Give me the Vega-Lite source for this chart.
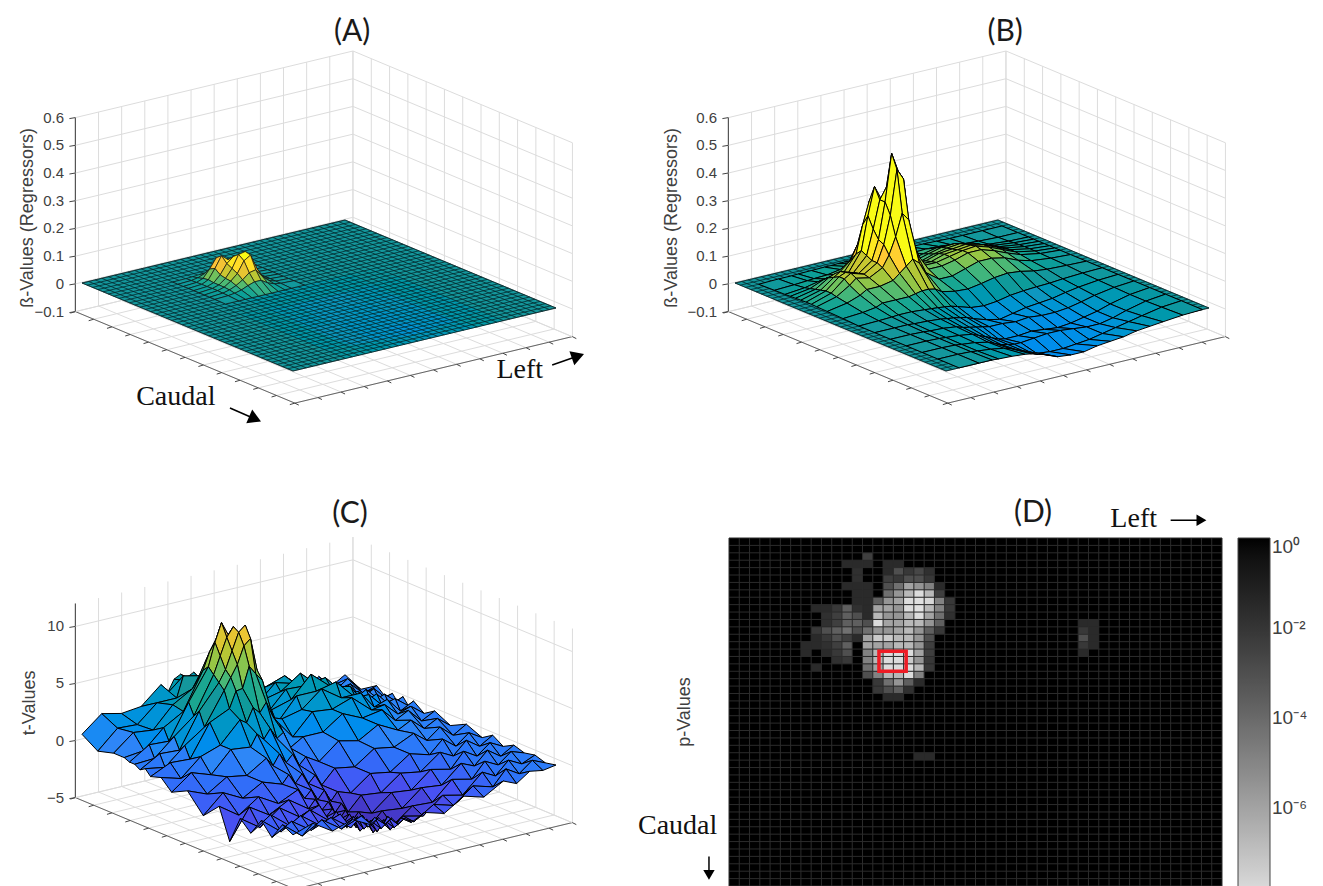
{"$schema":"https://vega.github.io/schema/vega-lite/v6.json","width":1323,"height":886,"padding":0,"autosize":"none","background":"white","config":{"view":{"stroke":null}},
"datasets":{
"grid":[{"k":0},{"k":1},{"k":2},{"k":3},{"k":4},{"k":5},{"k":6},{"k":7},{"k":8},{"k":9},{"k":10},{"k":11},{"k":12},{"k":13},{"k":14},{"k":15},{"k":16},{"k":17},{"k":18},{"k":19},{"k":20},{"k":21},{"k":22},{"k":23},{"k":24},{"k":25},{"k":26},{"k":27},{"k":28},{"k":29},{"k":30},{"k":31},{"k":32},{"k":33},{"k":34},{"k":35},{"k":36},{"k":37},{"k":38},{"k":39},{"k":40},{"k":41},{"k":42},{"k":43},{"k":44},{"k":45},{"k":46},{"k":47},{"k":48}],
"zt":[{"p":"A","z":-0.1},{"p":"A","z":0},{"p":"A","z":0.1},{"p":"A","z":0.2},{"p":"A","z":0.3},{"p":"A","z":0.4},{"p":"A","z":0.5},{"p":"A","z":0.6},{"p":"B","z":-0.1},{"p":"B","z":0},{"p":"B","z":0.1},{"p":"B","z":0.2},{"p":"B","z":0.3},{"p":"B","z":0.4},{"p":"B","z":0.5},{"p":"B","z":0.6},{"p":"C","z":-5},{"p":"C","z":0},{"p":"C","z":5},{"p":"C","z":10}],
"labels":[{"kind":"title","p":"A","text":"(A)","u":0,"v":1.027,"h":1.1},{"kind":"title","p":"B","text":"(B)","u":0,"v":1.027,"h":1.1},{"kind":"title","p":"C","text":"(C)","u":0,"v":1.019,"h":1.123},{"kind":"serif","p":"A","text":"Caudal","u":0.79,"v":-0.277,"h":0},{"kind":"serif","p":"A","text":"Left","u":1.19,"v":0.71,"h":0},{"kind":"axis","p":"A","text":"ß-Values (Regressors)","u":0,"v":-0.205,"h":0.541},{"kind":"axis","p":"B","text":"ß-Values (Regressors)","u":0,"v":-0.24,"h":0.553},{"kind":"axis","p":"C","text":"t-Values","u":0,"v":-0.198,"h":0.544}],
"arrows":[{"u0":1.21,"v0":0.817,"u1":1.19,"v1":0.931},{"u0":0.963,"v0":-0.21,"u1":1.086,"v1":-0.213}],
"troughA":[{"u":16,"v":32,"z":0},{"u":16,"v":28,"z":0},{"u":16,"v":24,"z":0},{"u":16,"v":20,"z":0},{"u":16,"v":16,"z":0},{"u":16,"v":12,"z":0},{"u":16,"v":8,"z":0},{"u":20,"v":32,"z":0},{"u":20,"v":28,"z":-0.006},{"u":20,"v":24,"z":-0.008},{"u":20,"v":20,"z":-0.01},{"u":20,"v":16,"z":-0.008},{"u":20,"v":12,"z":-0.004},{"u":20,"v":8,"z":0},{"u":24,"v":32,"z":0},{"u":24,"v":28,"z":-0.008},{"u":24,"v":24,"z":-0.014},{"u":24,"v":20,"z":-0.016},{"u":24,"v":16,"z":-0.012},{"u":24,"v":12,"z":-0.006},{"u":24,"v":8,"z":0},{"u":28,"v":32,"z":0},{"u":28,"v":28,"z":-0.01},{"u":28,"v":24,"z":-0.014},{"u":28,"v":20,"z":-0.012},{"u":28,"v":16,"z":-0.014},{"u":28,"v":12,"z":-0.008},{"u":28,"v":8,"z":0},{"u":32,"v":32,"z":0},{"u":32,"v":28,"z":-0.012},{"u":32,"v":24,"z":-0.02},{"u":32,"v":20,"z":-0.02},{"u":32,"v":16,"z":-0.016},{"u":32,"v":12,"z":-0.01},{"u":32,"v":8,"z":0},{"u":36,"v":32,"z":0},{"u":36,"v":28,"z":-0.01},{"u":36,"v":24,"z":-0.022},{"u":36,"v":20,"z":-0.022},{"u":36,"v":16,"z":-0.014},{"u":36,"v":12,"z":-0.008},{"u":36,"v":8,"z":0},{"u":40,"v":32,"z":0},{"u":40,"v":28,"z":0},{"u":40,"v":24,"z":0},{"u":40,"v":20,"z":0},{"u":40,"v":16,"z":0},{"u":40,"v":12,"z":0},{"u":40,"v":8,"z":0}],
"surfA":[
{"u":6,"v":21,"z":0},{"u":6,"v":19,"z":0},{"u":6,"v":18,"z":0.001},{"u":6,"v":17,"z":0.002},{"u":6,"v":16,"z":0.004},{"u":6,"v":15,"z":0.006},{"u":6,"v":14,"z":0.006},{"u":6,"v":13,"z":0.004},{"u":6,"v":12,"z":0.002},{"u":6,"v":11,"z":0.001},{"u":6,"v":9,"z":0},
{"u":7,"v":21,"z":0},{"u":7,"v":19,"z":0.001},{"u":7,"v":18,"z":0.002},{"u":7,"v":17,"z":0.005},{"u":7,"v":16,"z":0.012},{"u":7,"v":15,"z":0.02},{"u":7,"v":14,"z":0.025},{"u":7,"v":13,"z":0.015},{"u":7,"v":12,"z":0.006},{"u":7,"v":11,"z":0.002},{"u":7,"v":9,"z":0},
{"u":8,"v":21,"z":0},{"u":8,"v":19,"z":0.001},{"u":8,"v":18,"z":0.003},{"u":8,"v":17,"z":0.008},{"u":8,"v":16,"z":0.02},{"u":8,"v":15,"z":0.05},{"u":8,"v":14,"z":0.075},{"u":8,"v":13,"z":0.04},{"u":8,"v":12,"z":0.012},{"u":8,"v":11,"z":0.003},{"u":8,"v":9,"z":0},
{"u":9,"v":21,"z":0},{"u":9,"v":19,"z":0.002},{"u":9,"v":18,"z":0.004},{"u":9,"v":17,"z":0.012},{"u":9,"v":16,"z":0.035},{"u":9,"v":15,"z":0.07},{"u":9,"v":14,"z":0.09},{"u":9,"v":13,"z":0.05},{"u":9,"v":12,"z":0.015},{"u":9,"v":11,"z":0.004},{"u":9,"v":9,"z":0.001},
{"u":10,"v":21,"z":0},{"u":10,"v":19,"z":0.002},{"u":10,"v":18,"z":0.006},{"u":10,"v":17,"z":0.03},{"u":10,"v":16,"z":0.085},{"u":10,"v":15,"z":0.09},{"u":10,"v":14,"z":0.07},{"u":10,"v":13,"z":0.035},{"u":10,"v":12,"z":0.012},{"u":10,"v":11,"z":0.004},{"u":10,"v":9,"z":0.001},
{"u":11,"v":21,"z":0},{"u":11,"v":19,"z":0.003},{"u":11,"v":18,"z":0.01},{"u":11,"v":17,"z":0.05},{"u":11,"v":16,"z":0.11},{"u":11,"v":15,"z":0.105},{"u":11,"v":14,"z":0.06},{"u":11,"v":13,"z":0.03},{"u":11,"v":12,"z":0.012},{"u":11,"v":11,"z":0.005},{"u":11,"v":9,"z":0.001},
{"u":12,"v":21,"z":0},{"u":12,"v":19,"z":0.003},{"u":12,"v":18,"z":0.012},{"u":12,"v":17,"z":0.05},{"u":12,"v":16,"z":0.105},{"u":12,"v":15,"z":0.09},{"u":12,"v":14,"z":0.05},{"u":12,"v":13,"z":0.028},{"u":12,"v":12,"z":0.012},{"u":12,"v":11,"z":0.005},{"u":12,"v":9,"z":0.001},
{"u":13,"v":21,"z":0},{"u":13,"v":19,"z":0.002},{"u":13,"v":18,"z":0.01},{"u":13,"v":17,"z":0.03},{"u":13,"v":16,"z":0.06},{"u":13,"v":15,"z":0.055},{"u":13,"v":14,"z":0.035},{"u":13,"v":13,"z":0.02},{"u":13,"v":12,"z":0.01},{"u":13,"v":11,"z":0.004},{"u":13,"v":9,"z":0.001},
{"u":14,"v":21,"z":0},{"u":14,"v":19,"z":0.002},{"u":14,"v":18,"z":0.006},{"u":14,"v":17,"z":0.015},{"u":14,"v":16,"z":0.03},{"u":14,"v":15,"z":0.03},{"u":14,"v":14,"z":0.022},{"u":14,"v":13,"z":0.012},{"u":14,"v":12,"z":0.006},{"u":14,"v":11,"z":0.003},{"u":14,"v":9,"z":0.001},
{"u":16,"v":21,"z":0},{"u":16,"v":19,"z":0},{"u":16,"v":18,"z":0},{"u":16,"v":17,"z":0},{"u":16,"v":16,"z":0},{"u":16,"v":15,"z":0},{"u":16,"v":14,"z":0},{"u":16,"v":13,"z":0},{"u":16,"v":12,"z":0},{"u":16,"v":11,"z":0},{"u":16,"v":9,"z":0}],
"surfB":[
{"u":2,"v":39,"z":0},{"u":2,"v":36,"z":0},{"u":2,"v":33,"z":0},{"u":2,"v":31,"z":0},{"u":2,"v":29,"z":0.002},{"u":2,"v":27,"z":0.003},{"u":2,"v":25,"z":0.004},{"u":2,"v":23,"z":0.005},{"u":2,"v":21,"z":0.005},{"u":2,"v":19,"z":0.005},{"u":2,"v":17,"z":0.006},{"u":2,"v":16,"z":0.006},{"u":2,"v":15,"z":0.006},{"u":2,"v":14,"z":0.006},{"u":2,"v":13,"z":0.005},{"u":2,"v":12,"z":0.005},{"u":2,"v":10,"z":0.004},{"u":2,"v":8,"z":0.003},{"u":2,"v":7,"z":0.002},{"u":2,"v":5,"z":0.002},{"u":2,"v":2,"z":0},
{"u":5,"v":39,"z":0},{"u":5,"v":36,"z":0},{"u":5,"v":33,"z":0.003},{"u":5,"v":31,"z":0.006},{"u":5,"v":29,"z":0.012},{"u":5,"v":27,"z":0.018},{"u":5,"v":25,"z":0.02},{"u":5,"v":23,"z":0.018},{"u":5,"v":21,"z":0.015},{"u":5,"v":19,"z":0.015},{"u":5,"v":17,"z":0.02},{"u":5,"v":16,"z":0.025},{"u":5,"v":15,"z":0.03},{"u":5,"v":14,"z":0.03},{"u":5,"v":13,"z":0.025},{"u":5,"v":12,"z":0.02},{"u":5,"v":10,"z":0.012},{"u":5,"v":8,"z":0.01},{"u":5,"v":7,"z":0.008},{"u":5,"v":5,"z":0.005},{"u":5,"v":2,"z":0.002},
{"u":7,"v":39,"z":0},{"u":7,"v":36,"z":0.002},{"u":7,"v":33,"z":0.008},{"u":7,"v":31,"z":0.015},{"u":7,"v":29,"z":0.03},{"u":7,"v":27,"z":0.04},{"u":7,"v":25,"z":0.04},{"u":7,"v":23,"z":0.03},{"u":7,"v":21,"z":0.02},{"u":7,"v":19,"z":0.025},{"u":7,"v":17,"z":0.05},{"u":7,"v":16,"z":0.08},{"u":7,"v":15,"z":0.14},{"u":7,"v":14,"z":0.16},{"u":7,"v":13,"z":0.12},{"u":7,"v":12,"z":0.07},{"u":7,"v":10,"z":0.03},{"u":7,"v":8,"z":0.025},{"u":7,"v":7,"z":0.02},{"u":7,"v":5,"z":0.01},{"u":7,"v":2,"z":0.003},
{"u":8,"v":39,"z":0},{"u":8,"v":36,"z":0.004},{"u":8,"v":33,"z":0.012},{"u":8,"v":31,"z":0.022},{"u":8,"v":29,"z":0.04},{"u":8,"v":27,"z":0.052},{"u":8,"v":25,"z":0.05},{"u":8,"v":23,"z":0.038},{"u":8,"v":21,"z":0.025},{"u":8,"v":19,"z":0.03},{"u":8,"v":17,"z":0.07},{"u":8,"v":16,"z":0.14},{"u":8,"v":15,"z":0.24},{"u":8,"v":14,"z":0.28},{"u":8,"v":13,"z":0.2},{"u":8,"v":12,"z":0.1},{"u":8,"v":10,"z":0.04},{"u":8,"v":8,"z":0.04},{"u":8,"v":7,"z":0.035},{"u":8,"v":5,"z":0.015},{"u":8,"v":2,"z":0.004},
{"u":9,"v":39,"z":0},{"u":9,"v":36,"z":0.005},{"u":9,"v":33,"z":0.015},{"u":9,"v":31,"z":0.03},{"u":9,"v":29,"z":0.05},{"u":9,"v":27,"z":0.06},{"u":9,"v":25,"z":0.055},{"u":9,"v":23,"z":0.045},{"u":9,"v":21,"z":0.03},{"u":9,"v":19,"z":0.035},{"u":9,"v":17,"z":0.08},{"u":9,"v":16,"z":0.17},{"u":9,"v":15,"z":0.29},{"u":9,"v":14,"z":0.34},{"u":9,"v":13,"z":0.24},{"u":9,"v":12,"z":0.12},{"u":9,"v":10,"z":0.05},{"u":9,"v":8,"z":0.06},{"u":9,"v":7,"z":0.05},{"u":9,"v":5,"z":0.02},{"u":9,"v":2,"z":0.005},
{"u":10,"v":39,"z":0},{"u":10,"v":36,"z":0.006},{"u":10,"v":33,"z":0.018},{"u":10,"v":31,"z":0.035},{"u":10,"v":29,"z":0.055},{"u":10,"v":27,"z":0.065},{"u":10,"v":25,"z":0.06},{"u":10,"v":23,"z":0.055},{"u":10,"v":21,"z":0.04},{"u":10,"v":19,"z":0.04},{"u":10,"v":17,"z":0.1},{"u":10,"v":16,"z":0.26},{"u":10,"v":15,"z":0.34},{"u":10,"v":14,"z":0.3},{"u":10,"v":13,"z":0.2},{"u":10,"v":12,"z":0.11},{"u":10,"v":10,"z":0.06},{"u":10,"v":8,"z":0.075},{"u":10,"v":7,"z":0.06},{"u":10,"v":5,"z":0.025},{"u":10,"v":2,"z":0.006},
{"u":11,"v":39,"z":0},{"u":11,"v":36,"z":0.006},{"u":11,"v":33,"z":0.02},{"u":11,"v":31,"z":0.04},{"u":11,"v":29,"z":0.06},{"u":11,"v":27,"z":0.07},{"u":11,"v":25,"z":0.065},{"u":11,"v":23,"z":0.06},{"u":11,"v":21,"z":0.045},{"u":11,"v":19,"z":0.045},{"u":11,"v":17,"z":0.16},{"u":11,"v":16,"z":0.4},{"u":11,"v":15,"z":0.47},{"u":11,"v":14,"z":0.3},{"u":11,"v":13,"z":0.17},{"u":11,"v":12,"z":0.1},{"u":11,"v":10,"z":0.065},{"u":11,"v":8,"z":0.08},{"u":11,"v":7,"z":0.07},{"u":11,"v":5,"z":0.03},{"u":11,"v":2,"z":0.007},
{"u":12,"v":39,"z":0},{"u":12,"v":36,"z":0.006},{"u":12,"v":33,"z":0.02},{"u":12,"v":31,"z":0.04},{"u":12,"v":29,"z":0.06},{"u":12,"v":27,"z":0.075},{"u":12,"v":25,"z":0.07},{"u":12,"v":23,"z":0.06},{"u":12,"v":21,"z":0.05},{"u":12,"v":19,"z":0.05},{"u":12,"v":17,"z":0.17},{"u":12,"v":16,"z":0.38},{"u":12,"v":15,"z":0.42},{"u":12,"v":14,"z":0.26},{"u":12,"v":13,"z":0.16},{"u":12,"v":12,"z":0.1},{"u":12,"v":10,"z":0.07},{"u":12,"v":8,"z":0.085},{"u":12,"v":7,"z":0.07},{"u":12,"v":5,"z":0.03},{"u":12,"v":2,"z":0.007},
{"u":13,"v":39,"z":0},{"u":13,"v":36,"z":0.005},{"u":13,"v":33,"z":0.018},{"u":13,"v":31,"z":0.035},{"u":13,"v":29,"z":0.055},{"u":13,"v":27,"z":0.07},{"u":13,"v":25,"z":0.07},{"u":13,"v":23,"z":0.055},{"u":13,"v":21,"z":0.045},{"u":13,"v":19,"z":0.045},{"u":13,"v":17,"z":0.12},{"u":13,"v":16,"z":0.24},{"u":13,"v":15,"z":0.27},{"u":13,"v":14,"z":0.19},{"u":13,"v":13,"z":0.13},{"u":13,"v":12,"z":0.09},{"u":13,"v":10,"z":0.065},{"u":13,"v":8,"z":0.075},{"u":13,"v":7,"z":0.055},{"u":13,"v":5,"z":0.025},{"u":13,"v":2,"z":0.006},
{"u":15,"v":39,"z":0},{"u":15,"v":36,"z":0.004},{"u":15,"v":33,"z":0.012},{"u":15,"v":31,"z":0.025},{"u":15,"v":29,"z":0.045},{"u":15,"v":27,"z":0.055},{"u":15,"v":25,"z":0.055},{"u":15,"v":23,"z":0.04},{"u":15,"v":21,"z":0.025},{"u":15,"v":19,"z":0.025},{"u":15,"v":17,"z":0.06},{"u":15,"v":16,"z":0.1},{"u":15,"v":15,"z":0.12},{"u":15,"v":14,"z":0.1},{"u":15,"v":13,"z":0.08},{"u":15,"v":12,"z":0.06},{"u":15,"v":10,"z":0.05},{"u":15,"v":8,"z":0.05},{"u":15,"v":7,"z":0.035},{"u":15,"v":5,"z":0.018},{"u":15,"v":2,"z":0.005},
{"u":18,"v":39,"z":0},{"u":18,"v":36,"z":0.002},{"u":18,"v":33,"z":0.005},{"u":18,"v":31,"z":0.01},{"u":18,"v":29,"z":0.02},{"u":18,"v":27,"z":0.025},{"u":18,"v":25,"z":0.02},{"u":18,"v":23,"z":0.01},{"u":18,"v":21,"z":0.002},{"u":18,"v":19,"z":0.005},{"u":18,"v":17,"z":0.015},{"u":18,"v":16,"z":0.03},{"u":18,"v":15,"z":0.035},{"u":18,"v":14,"z":0.035},{"u":18,"v":13,"z":0.03},{"u":18,"v":12,"z":0.025},{"u":18,"v":10,"z":0.025},{"u":18,"v":8,"z":0.025},{"u":18,"v":7,"z":0.015},{"u":18,"v":5,"z":0.008},{"u":18,"v":2,"z":0.003},
{"u":21,"v":39,"z":0},{"u":21,"v":36,"z":-0.002},{"u":21,"v":33,"z":-0.006},{"u":21,"v":31,"z":-0.01},{"u":21,"v":29,"z":-0.012},{"u":21,"v":27,"z":-0.015},{"u":21,"v":25,"z":-0.02},{"u":21,"v":23,"z":-0.03},{"u":21,"v":21,"z":-0.035},{"u":21,"v":19,"z":-0.03},{"u":21,"v":17,"z":-0.015},{"u":21,"v":16,"z":-0.008},{"u":21,"v":15,"z":-0.005},{"u":21,"v":14,"z":-0.002},{"u":21,"v":13,"z":0},{"u":21,"v":12,"z":0.002},{"u":21,"v":10,"z":0.006},{"u":21,"v":8,"z":0.006},{"u":21,"v":7,"z":0.004},{"u":21,"v":5,"z":0.002},{"u":21,"v":2,"z":0},
{"u":24,"v":39,"z":0},{"u":24,"v":36,"z":-0.004},{"u":24,"v":33,"z":-0.012},{"u":24,"v":31,"z":-0.02},{"u":24,"v":29,"z":-0.03},{"u":24,"v":27,"z":-0.035},{"u":24,"v":25,"z":-0.04},{"u":24,"v":23,"z":-0.05},{"u":24,"v":21,"z":-0.06},{"u":24,"v":19,"z":-0.05},{"u":24,"v":17,"z":-0.035},{"u":24,"v":16,"z":-0.025},{"u":24,"v":15,"z":-0.02},{"u":24,"v":14,"z":-0.015},{"u":24,"v":13,"z":-0.012},{"u":24,"v":12,"z":-0.008},{"u":24,"v":10,"z":-0.004},{"u":24,"v":8,"z":-0.002},{"u":24,"v":7,"z":0},{"u":24,"v":5,"z":0},{"u":24,"v":2,"z":0},
{"u":27,"v":39,"z":0},{"u":27,"v":36,"z":-0.006},{"u":27,"v":33,"z":-0.018},{"u":27,"v":31,"z":-0.03},{"u":27,"v":29,"z":-0.04},{"u":27,"v":27,"z":-0.045},{"u":27,"v":25,"z":-0.045},{"u":27,"v":23,"z":-0.04},{"u":27,"v":21,"z":-0.045},{"u":27,"v":19,"z":-0.04},{"u":27,"v":17,"z":-0.04},{"u":27,"v":16,"z":-0.035},{"u":27,"v":15,"z":-0.03},{"u":27,"v":14,"z":-0.025},{"u":27,"v":13,"z":-0.02},{"u":27,"v":12,"z":-0.012},{"u":27,"v":10,"z":-0.006},{"u":27,"v":8,"z":-0.004},{"u":27,"v":7,"z":-0.002},{"u":27,"v":5,"z":0},{"u":27,"v":2,"z":0},
{"u":30,"v":39,"z":0},{"u":30,"v":36,"z":-0.008},{"u":30,"v":33,"z":-0.025},{"u":30,"v":31,"z":-0.04},{"u":30,"v":29,"z":-0.05},{"u":30,"v":27,"z":-0.06},{"u":30,"v":25,"z":-0.065},{"u":30,"v":23,"z":-0.06},{"u":30,"v":21,"z":-0.055},{"u":30,"v":19,"z":-0.06},{"u":30,"v":17,"z":-0.06},{"u":30,"v":16,"z":-0.055},{"u":30,"v":15,"z":-0.045},{"u":30,"v":14,"z":-0.035},{"u":30,"v":13,"z":-0.025},{"u":30,"v":12,"z":-0.015},{"u":30,"v":10,"z":-0.008},{"u":30,"v":8,"z":-0.004},{"u":30,"v":7,"z":-0.002},{"u":30,"v":5,"z":0},{"u":30,"v":2,"z":0},
{"u":33,"v":39,"z":0},{"u":33,"v":36,"z":-0.008},{"u":33,"v":33,"z":-0.025},{"u":33,"v":31,"z":-0.04},{"u":33,"v":29,"z":-0.05},{"u":33,"v":27,"z":-0.05},{"u":33,"v":25,"z":-0.045},{"u":33,"v":23,"z":-0.04},{"u":33,"v":21,"z":-0.04},{"u":33,"v":19,"z":-0.045},{"u":33,"v":17,"z":-0.05},{"u":33,"v":16,"z":-0.05},{"u":33,"v":15,"z":-0.045},{"u":33,"v":14,"z":-0.04},{"u":33,"v":13,"z":-0.03},{"u":33,"v":12,"z":-0.02},{"u":33,"v":10,"z":-0.01},{"u":33,"v":8,"z":-0.005},{"u":33,"v":7,"z":-0.002},{"u":33,"v":5,"z":0},{"u":33,"v":2,"z":0},
{"u":36,"v":39,"z":0},{"u":36,"v":36,"z":-0.006},{"u":36,"v":33,"z":-0.02},{"u":36,"v":31,"z":-0.03},{"u":36,"v":29,"z":-0.04},{"u":36,"v":27,"z":-0.05},{"u":36,"v":25,"z":-0.06},{"u":36,"v":23,"z":-0.065},{"u":36,"v":21,"z":-0.07},{"u":36,"v":19,"z":-0.07},{"u":36,"v":17,"z":-0.065},{"u":36,"v":16,"z":-0.055},{"u":36,"v":15,"z":-0.045},{"u":36,"v":14,"z":-0.035},{"u":36,"v":13,"z":-0.025},{"u":36,"v":12,"z":-0.018},{"u":36,"v":10,"z":-0.01},{"u":36,"v":8,"z":-0.005},{"u":36,"v":7,"z":-0.002},{"u":36,"v":5,"z":0},{"u":36,"v":2,"z":0},
{"u":40,"v":39,"z":0},{"u":40,"v":36,"z":-0.003},{"u":40,"v":33,"z":-0.01},{"u":40,"v":31,"z":-0.015},{"u":40,"v":29,"z":-0.02},{"u":40,"v":27,"z":-0.03},{"u":40,"v":25,"z":-0.035},{"u":40,"v":23,"z":-0.04},{"u":40,"v":21,"z":-0.05},{"u":40,"v":19,"z":-0.05},{"u":40,"v":17,"z":-0.045},{"u":40,"v":16,"z":-0.035},{"u":40,"v":15,"z":-0.025},{"u":40,"v":14,"z":-0.02},{"u":40,"v":13,"z":-0.012},{"u":40,"v":12,"z":-0.008},{"u":40,"v":10,"z":-0.004},{"u":40,"v":8,"z":-0.002},{"u":40,"v":7,"z":0},{"u":40,"v":5,"z":0},{"u":40,"v":2,"z":0}],
"surfC":[
{"u":0,"v":40,"z":0.2},{"u":0,"v":38,"z":-0.5},{"u":0,"v":36,"z":0.6},{"u":0,"v":34,"z":-0.4},{"u":0,"v":32,"z":0.8},{"u":0,"v":29,"z":0.1},{"u":0,"v":26,"z":1.1},{"u":0,"v":23,"z":0.9},{"u":0,"v":20,"z":2.6},{"u":0,"v":18,"z":2.7},{"u":0,"v":17,"z":3.6},{"u":0,"v":16,"z":3.3},{"u":0,"v":15,"z":3.7},{"u":0,"v":14,"z":3.4},{"u":0,"v":13,"z":2.3},{"u":0,"v":12,"z":3.2},{"u":0,"v":9,"z":1.7},{"u":0,"v":6,"z":1.5},{"u":0,"v":3,"z":1.9},{"u":0,"v":0,"z":0.5},
{"u":3,"v":40,"z":-0.5},{"u":3,"v":38,"z":0.7},{"u":3,"v":36,"z":-0.1},{"u":3,"v":34,"z":1},{"u":3,"v":32,"z":0.7},{"u":3,"v":29,"z":1.4},{"u":3,"v":26,"z":1.2},{"u":3,"v":23,"z":2.6},{"u":3,"v":20,"z":2.2},{"u":3,"v":18,"z":4},{"u":3,"v":17,"z":2.8},{"u":3,"v":16,"z":3.8},{"u":3,"v":15,"z":3.4},{"u":3,"v":14,"z":3.8},{"u":3,"v":13,"z":4.4},{"u":3,"v":12,"z":2.6},{"u":3,"v":9,"z":2.6},{"u":3,"v":6,"z":1.1},{"u":3,"v":3,"z":1.2},{"u":3,"v":0,"z":-0.4},
{"u":6,"v":40,"z":0.4},{"u":6,"v":38,"z":0},{"u":6,"v":36,"z":1.1},{"u":6,"v":34,"z":0.3},{"u":6,"v":32,"z":1.6},{"u":6,"v":29,"z":1.6},{"u":6,"v":26,"z":3.2},{"u":6,"v":23,"z":2.6},{"u":6,"v":20,"z":2.8},{"u":6,"v":18,"z":3},{"u":6,"v":17,"z":4.9},{"u":6,"v":16,"z":5.1},{"u":6,"v":15,"z":6.4},{"u":6,"v":14,"z":5},{"u":6,"v":13,"z":5},{"u":6,"v":12,"z":4},{"u":6,"v":9,"z":3},{"u":6,"v":6,"z":1.2},{"u":6,"v":3,"z":1.4},{"u":6,"v":0,"z":0},
{"u":8,"v":40,"z":-0.4},{"u":8,"v":38,"z":0.8},{"u":8,"v":36,"z":0.2},{"u":8,"v":34,"z":1.4},{"u":8,"v":32,"z":1.2},{"u":8,"v":29,"z":3},{"u":8,"v":26,"z":2.9},{"u":8,"v":23,"z":3.4},{"u":8,"v":20,"z":1.8},{"u":8,"v":18,"z":3.4},{"u":8,"v":17,"z":4.6},{"u":8,"v":16,"z":6.9},{"u":8,"v":15,"z":7.1},{"u":8,"v":14,"z":8.5},{"u":8,"v":13,"z":7.5},{"u":8,"v":12,"z":6},{"u":8,"v":9,"z":2.8},{"u":8,"v":6,"z":1.8},{"u":8,"v":3,"z":0.2},{"u":8,"v":0,"z":0},
{"u":9,"v":40,"z":0.3},{"u":9,"v":38,"z":0},{"u":9,"v":36,"z":1.2},{"u":9,"v":34,"z":0.5},{"u":9,"v":32,"z":2.2},{"u":9,"v":29,"z":2.4},{"u":9,"v":26,"z":4},{"u":9,"v":23,"z":2.8},{"u":9,"v":20,"z":2.4},{"u":9,"v":18,"z":2.4},{"u":9,"v":17,"z":5.9},{"u":9,"v":16,"z":6.6},{"u":9,"v":15,"z":8.9},{"u":9,"v":14,"z":10.1},{"u":9,"v":13,"z":8.5},{"u":9,"v":12,"z":6.5},{"u":9,"v":9,"z":3.8},{"u":9,"v":6,"z":0.8},{"u":9,"v":3,"z":0.9},{"u":9,"v":0,"z":-0.2},
{"u":10,"v":40,"z":-0.3},{"u":10,"v":38,"z":0.7},{"u":10,"v":36,"z":0.3},{"u":10,"v":34,"z":1.5},{"u":10,"v":32,"z":1.5},{"u":10,"v":29,"z":3.4},{"u":10,"v":26,"z":3.1},{"u":10,"v":23,"z":3.2},{"u":10,"v":20,"z":1.4},{"u":10,"v":18,"z":3.4},{"u":10,"v":17,"z":5.6},{"u":10,"v":16,"z":8.5},{"u":10,"v":15,"z":9.8},{"u":10,"v":14,"z":9},{"u":10,"v":13,"z":7.5},{"u":10,"v":12,"z":6},{"u":10,"v":9,"z":2.8},{"u":10,"v":6,"z":1.4},{"u":10,"v":3,"z":-0.1},{"u":10,"v":0,"z":-0.2},
{"u":11,"v":40,"z":0.4},{"u":11,"v":38,"z":-0.1},{"u":11,"v":36,"z":1.2},{"u":11,"v":34,"z":0.7},{"u":11,"v":32,"z":2.4},{"u":11,"v":29,"z":2.8},{"u":11,"v":26,"z":4.3},{"u":11,"v":23,"z":2.5},{"u":11,"v":20,"z":2},{"u":11,"v":18,"z":2.8},{"u":11,"v":17,"z":7},{"u":11,"v":16,"z":10},{"u":11,"v":15,"z":9.5},{"u":11,"v":14,"z":8},{"u":11,"v":13,"z":6.5},{"u":11,"v":12,"z":5.5},{"u":11,"v":9,"z":3.4},{"u":11,"v":6,"z":0.4},{"u":11,"v":3,"z":0.5},{"u":11,"v":0,"z":-0.5},
{"u":12,"v":40,"z":-0.2},{"u":12,"v":38,"z":0.7},{"u":12,"v":36,"z":0.4},{"u":12,"v":34,"z":1.6},{"u":12,"v":32,"z":1.6},{"u":12,"v":29,"z":3.4},{"u":12,"v":26,"z":3},{"u":12,"v":23,"z":3},{"u":12,"v":20,"z":1},{"u":12,"v":18,"z":3.4},{"u":12,"v":17,"z":6.1},{"u":12,"v":16,"z":9},{"u":12,"v":15,"z":8.5},{"u":12,"v":14,"z":7},{"u":12,"v":13,"z":6},{"u":12,"v":12,"z":5},{"u":12,"v":9,"z":2.2},{"u":12,"v":6,"z":1},{"u":12,"v":3,"z":-0.5},{"u":12,"v":0,"z":-0.2},
{"u":13,"v":40,"z":0.4},{"u":13,"v":38,"z":-0.2},{"u":13,"v":36,"z":1.1},{"u":13,"v":34,"z":0.7},{"u":13,"v":32,"z":2.2},{"u":13,"v":29,"z":2.2},{"u":13,"v":26,"z":3.4},{"u":13,"v":23,"z":2},{"u":13,"v":20,"z":1.6},{"u":13,"v":18,"z":2},{"u":13,"v":17,"z":5.4},{"u":13,"v":16,"z":6.1},{"u":13,"v":15,"z":6.9},{"u":13,"v":14,"z":5.1},{"u":13,"v":13,"z":5},{"u":13,"v":12,"z":3.6},{"u":13,"v":9,"z":2.8},{"u":13,"v":6,"z":0},{"u":13,"v":3,"z":0.1},{"u":13,"v":0,"z":-0.7},
{"u":15,"v":40,"z":-0.3},{"u":15,"v":38,"z":0.6},{"u":15,"v":36,"z":0.2},{"u":15,"v":34,"z":1.3},{"u":15,"v":32,"z":1.1},{"u":15,"v":29,"z":2.6},{"u":15,"v":26,"z":2},{"u":15,"v":23,"z":2.2},{"u":15,"v":20,"z":0.4},{"u":15,"v":18,"z":1.8},{"u":15,"v":17,"z":2.6},{"u":15,"v":16,"z":4},{"u":15,"v":15,"z":3.2},{"u":15,"v":14,"z":3.8},{"u":15,"v":13,"z":2.6},{"u":15,"v":12,"z":3},{"u":15,"v":9,"z":1.2},{"u":15,"v":6,"z":0.6},{"u":15,"v":3,"z":-0.9},{"u":15,"v":0,"z":-0.4},
{"u":17,"v":40,"z":0.3},{"u":17,"v":38,"z":-0.3},{"u":17,"v":36,"z":0.9},{"u":17,"v":34,"z":0.3},{"u":17,"v":32,"z":1.5},{"u":17,"v":29,"z":1.2},{"u":17,"v":26,"z":2},{"u":17,"v":23,"z":0.8},{"u":17,"v":20,"z":0.8},{"u":17,"v":18,"z":0.1},{"u":17,"v":17,"z":1.6},{"u":17,"v":16,"z":1.2},{"u":17,"v":15,"z":2.2},{"u":17,"v":14,"z":1.4},{"u":17,"v":13,"z":2},{"u":17,"v":12,"z":1},{"u":17,"v":9,"z":1.2},{"u":17,"v":6,"z":-0.6},{"u":17,"v":3,"z":0},{"u":17,"v":0,"z":-1.3},
{"u":20,"v":40,"z":-0.4},{"u":20,"v":38,"z":0.5},{"u":20,"v":36,"z":-0.1},{"u":20,"v":34,"z":0.9},{"u":20,"v":32,"z":0.3},{"u":20,"v":29,"z":1.2},{"u":20,"v":26,"z":0.2},{"u":20,"v":23,"z":0.6},{"u":20,"v":20,"z":-0.8},{"u":20,"v":18,"z":-0.1},{"u":20,"v":17,"z":-0.7},{"u":20,"v":16,"z":0.4},{"u":20,"v":15,"z":-0.2},{"u":20,"v":14,"z":0.7},{"u":20,"v":13,"z":-0.2},{"u":20,"v":12,"z":0.6},{"u":20,"v":9,"z":-0.5},{"u":20,"v":6,"z":-0.2},{"u":20,"v":3,"z":-1.3},{"u":20,"v":0,"z":-0.6},
{"u":23,"v":40,"z":0.3},{"u":23,"v":38,"z":-0.4},{"u":23,"v":36,"z":0.6},{"u":23,"v":34,"z":-0.3},{"u":23,"v":32,"z":0.6},{"u":23,"v":29,"z":-0.2},{"u":23,"v":26,"z":0.1},{"u":23,"v":23,"z":-1.1},{"u":23,"v":20,"z":-0.8},{"u":23,"v":18,"z":-2},{"u":23,"v":17,"z":-1},{"u":23,"v":16,"z":-1.6},{"u":23,"v":15,"z":-0.6},{"u":23,"v":14,"z":-1.3},{"u":23,"v":13,"z":-0.4},{"u":23,"v":12,"z":-1.1},{"u":23,"v":9,"z":-0.5},{"u":23,"v":6,"z":-1.5},{"u":23,"v":3,"z":-0.6},{"u":23,"v":0,"z":-2.2},
{"u":26,"v":40,"z":-0.3},{"u":26,"v":38,"z":0.4},{"u":26,"v":36,"z":-0.5},{"u":26,"v":34,"z":0.4},{"u":26,"v":32,"z":-0.7},{"u":26,"v":29,"z":-0.2},{"u":26,"v":26,"z":-1.4},{"u":26,"v":23,"z":-1.1},{"u":26,"v":20,"z":-2.4},{"u":26,"v":18,"z":-2},{"u":26,"v":17,"z":-2.7},{"u":26,"v":16,"z":-1.6},{"u":26,"v":15,"z":-2.3},{"u":26,"v":14,"z":-1.3},{"u":26,"v":13,"z":-1.9},{"u":26,"v":12,"z":-1},{"u":26,"v":9,"z":-1.8},{"u":26,"v":6,"z":-0.8},{"u":26,"v":3,"z":-2},{"u":26,"v":0,"z":-0.8},
{"u":28,"v":40,"z":0.3},{"u":28,"v":38,"z":-0.4},{"u":28,"v":36,"z":0.4},{"u":28,"v":34,"z":-0.7},{"u":28,"v":32,"z":-0.1},{"u":28,"v":29,"z":-1.4},{"u":28,"v":26,"z":-1.1},{"u":28,"v":23,"z":-2.4},{"u":28,"v":20,"z":-2.2},{"u":28,"v":18,"z":-3.4},{"u":28,"v":17,"z":-2.5},{"u":28,"v":16,"z":-3.2},{"u":28,"v":15,"z":-2.1},{"u":28,"v":14,"z":-2.7},{"u":28,"v":13,"z":-1.6},{"u":28,"v":12,"z":-2.3},{"u":28,"v":9,"z":-1.1},{"u":28,"v":6,"z":-2},{"u":28,"v":3,"z":-0.9},{"u":28,"v":0,"z":-3.5},
{"u":30,"v":40,"z":-0.3},{"u":30,"v":38,"z":0.3},{"u":30,"v":36,"z":-0.6},{"u":30,"v":34,"z":0.1},{"u":30,"v":32,"z":-1.2},{"u":30,"v":29,"z":-0.8},{"u":30,"v":26,"z":-2.2},{"u":30,"v":23,"z":-2},{"u":30,"v":20,"z":-3.4},{"u":30,"v":18,"z":-3},{"u":30,"v":17,"z":-3.7},{"u":30,"v":16,"z":-2.6},{"u":30,"v":15,"z":-3.3},{"u":30,"v":14,"z":-2.2},{"u":30,"v":13,"z":-2.8},{"u":30,"v":12,"z":-1.6},{"u":30,"v":9,"z":-2.2},{"u":30,"v":6,"z":-1},{"u":30,"v":3,"z":-2.3},{"u":30,"v":0,"z":-1.1},
{"u":32,"v":40,"z":0.2},{"u":32,"v":38,"z":-0.5},{"u":32,"v":36,"z":0.3},{"u":32,"v":34,"z":-0.8},{"u":32,"v":32,"z":-0.3},{"u":32,"v":29,"z":-1.8},{"u":32,"v":26,"z":-1.6},{"u":32,"v":23,"z":-3},{"u":32,"v":20,"z":-2.8},{"u":32,"v":18,"z":-3.9},{"u":32,"v":17,"z":-2.8},{"u":32,"v":16,"z":-3.7},{"u":32,"v":15,"z":-2.4},{"u":32,"v":14,"z":-3.1},{"u":32,"v":13,"z":-1.9},{"u":32,"v":12,"z":-2.6},{"u":32,"v":9,"z":-1.2},{"u":32,"v":6,"z":-2.2},{"u":32,"v":3,"z":-0.8},{"u":32,"v":0,"z":-2},
{"u":34,"v":40,"z":-0.1},{"u":34,"v":38,"z":0.3},{"u":34,"v":36,"z":-0.6},{"u":34,"v":34,"z":0},{"u":34,"v":32,"z":-1.3},{"u":34,"v":29,"z":-0.9},{"u":34,"v":26,"z":-2.5},{"u":34,"v":23,"z":-2.4},{"u":34,"v":20,"z":-3.7},{"u":34,"v":18,"z":-3},{"u":34,"v":17,"z":-3.9},{"u":34,"v":16,"z":-2.6},{"u":34,"v":15,"z":-3.5},{"u":34,"v":14,"z":-2.1},{"u":34,"v":13,"z":-2.9},{"u":34,"v":12,"z":-1.6},{"u":34,"v":9,"z":-2.2},{"u":34,"v":6,"z":-0.9},{"u":34,"v":3,"z":-1.9},{"u":34,"v":0,"z":-0.5},
{"u":36,"v":40,"z":0.1},{"u":36,"v":38,"z":-0.4},{"u":36,"v":36,"z":0.2},{"u":36,"v":34,"z":-0.9},{"u":36,"v":32,"z":-0.3},{"u":36,"v":29,"z":-1.9},{"u":36,"v":26,"z":-1.5},{"u":36,"v":23,"z":-2.9},{"u":36,"v":20,"z":-2.5},{"u":36,"v":18,"z":-3.4},{"u":36,"v":17,"z":-2.4},{"u":36,"v":16,"z":-3.3},{"u":36,"v":15,"z":-2.2},{"u":36,"v":14,"z":-2.8},{"u":36,"v":13,"z":-1.6},{"u":36,"v":12,"z":-2.4},{"u":36,"v":9,"z":-1.1},{"u":36,"v":6,"z":-1.8},{"u":36,"v":3,"z":-0.6},{"u":36,"v":0,"z":-1.6},
{"u":38,"v":40,"z":-0.2},{"u":38,"v":38,"z":0.3},{"u":38,"v":36,"z":-0.6},{"u":38,"v":34,"z":0.1},{"u":38,"v":32,"z":-1.2},{"u":38,"v":29,"z":-0.7},{"u":38,"v":26,"z":-2},{"u":38,"v":23,"z":-1.5},{"u":38,"v":20,"z":-2.6},{"u":38,"v":18,"z":-2},{"u":38,"v":17,"z":-2.7},{"u":38,"v":16,"z":-1.6},{"u":38,"v":15,"z":-2.5},{"u":38,"v":14,"z":-1.4},{"u":38,"v":13,"z":-2.1},{"u":38,"v":12,"z":-1},{"u":38,"v":9,"z":-1.7},{"u":38,"v":6,"z":-0.5},{"u":38,"v":3,"z":-1.5},{"u":38,"v":0,"z":-0.1},
{"u":40,"v":40,"z":0},{"u":40,"v":38,"z":-0.2},{"u":40,"v":36,"z":0},{"u":40,"v":34,"z":-0.8},{"u":40,"v":32,"z":-0.3},{"u":40,"v":29,"z":-1.3},{"u":40,"v":26,"z":-0.8},{"u":40,"v":23,"z":-1.9},{"u":40,"v":20,"z":-1.4},{"u":40,"v":18,"z":-2},{"u":40,"v":17,"z":-1.5},{"u":40,"v":16,"z":-1.9},{"u":40,"v":15,"z":-1.2},{"u":40,"v":14,"z":-1.6},{"u":40,"v":13,"z":-0.9},{"u":40,"v":12,"z":-1.4},{"u":40,"v":9,"z":-0.5},{"u":40,"v":6,"z":-1.1},{"u":40,"v":3,"z":0},{"u":40,"v":0,"z":-0.6}],
"cells":[{"c":13,"r":2,"p":4e-3},{"c":11,"r":3,"p":0.03},{"c":12,"r":3,"p":0.03},{"c":13,"r":3,"p":0.03},{"c":15,"r":3,"p":0.03},{"c":16,"r":3,"p":0.03},{"c":12,"r":4,"p":0.016},{"c":15,"r":4,"p":0.03},{"c":16,"r":4,"p":1e-3},{"c":17,"r":4,"p":8e-3},{"c":18,"r":4,"p":2e-3},{"c":19,"r":4,"p":0.016},{"c":12,"r":5,"p":0.016},{"c":15,"r":5,"p":4e-3},{"c":16,"r":5,"p":8e-3},{"c":17,"r":5,"p":1e-3},{"c":18,"r":5,"p":1e-3},{"c":19,"r":5,"p":8e-3},{"c":11,"r":6,"p":0.03},{"c":12,"r":6,"p":0.03},{"c":13,"r":6,"p":0.03},{"c":15,"r":6,"p":1e-3},{"c":16,"r":6,"p":6e-5},{"c":17,"r":6,"p":1e-6},{"c":18,"r":6,"p":3e-6},{"c":19,"r":6,"p":1.3e-5},{"c":20,"r":6,"p":0.03},{"c":12,"r":7,"p":0.03},{"c":13,"r":7,"p":0.03},{"c":15,"r":7,"p":6e-5},{"c":16,"r":7,"p":3e-6},{"c":17,"r":7,"p":2e-7},{"c":18,"r":7,"p":1.3e-8},{"c":19,"r":7,"p":2e-7},{"c":20,"r":7,"p":4e-3},{"c":12,"r":8,"p":0.03},{"c":13,"r":8,"p":0.03},{"c":14,"r":8,"p":2.5e-4},{"c":15,"r":8,"p":3e-6},{"c":16,"r":8,"p":1e-6},{"c":17,"r":8,"p":1.3e-8},{"c":18,"r":8,"p":1e-8},{"c":19,"r":8,"p":2e-8},{"c":20,"r":8,"p":1.3e-5},{"c":21,"r":8,"p":8e-3},{"c":8,"r":9,"p":0.03},{"c":9,"r":9,"p":0.03},{"c":10,"r":9,"p":8e-3},{"c":11,"r":9,"p":2.5e-4},{"c":12,"r":9,"p":0.016},{"c":13,"r":9,"p":0.03},{"c":14,"r":9,"p":1e-6},{"c":15,"r":9,"p":1e-6},{"c":16,"r":9,"p":3e-6},{"c":17,"r":9,"p":1.3e-8},{"c":18,"r":9,"p":1e-8},{"c":19,"r":9,"p":2e-7},{"c":20,"r":9,"p":1.3e-5},{"c":21,"r":9,"p":8e-3},{"c":9,"r":10,"p":0.016},{"c":10,"r":10,"p":4e-3},{"c":11,"r":10,"p":2.5e-4},{"c":12,"r":10,"p":1e-3},{"c":13,"r":10,"p":0.03},{"c":14,"r":10,"p":2e-7},{"c":15,"r":10,"p":3e-6},{"c":16,"r":10,"p":3e-6},{"c":17,"r":10,"p":2e-7},{"c":18,"r":10,"p":1.3e-8},{"c":19,"r":10,"p":1e-6},{"c":20,"r":10,"p":6e-5},{"c":21,"r":10,"p":0.016},{"c":9,"r":11,"p":0.016},{"c":10,"r":11,"p":4e-3},{"c":11,"r":11,"p":2.5e-4},{"c":12,"r":11,"p":2.5e-4},{"c":13,"r":11,"p":1e-3},{"c":14,"r":11,"p":1.3e-8},{"c":15,"r":11,"p":1e-6},{"c":16,"r":11,"p":1e-6},{"c":17,"r":11,"p":2e-7},{"c":18,"r":11,"p":2e-7},{"c":19,"r":11,"p":3e-6},{"c":20,"r":11,"p":2.5e-4},{"c":8,"r":12,"p":8e-3},{"c":9,"r":12,"p":1e-3},{"c":10,"r":12,"p":2.5e-4},{"c":11,"r":12,"p":6e-5},{"c":12,"r":12,"p":1e-3},{"c":13,"r":12,"p":6e-5},{"c":14,"r":12,"p":3e-6},{"c":15,"r":12,"p":3e-6},{"c":16,"r":12,"p":1e-6},{"c":17,"r":12,"p":2e-7},{"c":18,"r":12,"p":3e-6},{"c":19,"r":12,"p":2.5e-4},{"c":20,"r":12,"p":8e-3},{"c":8,"r":13,"p":0.03},{"c":9,"r":13,"p":8e-3},{"c":10,"r":13,"p":1e-3},{"c":11,"r":13,"p":4e-3},{"c":12,"r":13,"p":0.03},{"c":13,"r":13,"p":1e-6},{"c":14,"r":13,"p":5e-8},{"c":15,"r":13,"p":5e-8},{"c":16,"r":13,"p":2e-7},{"c":17,"r":13,"p":2e-7},{"c":18,"r":13,"p":3e-6},{"c":19,"r":13,"p":1e-3},{"c":7,"r":14,"p":0.03},{"c":8,"r":14,"p":0.03},{"c":9,"r":14,"p":0.016},{"c":10,"r":14,"p":4e-3},{"c":11,"r":14,"p":2.5e-4},{"c":13,"r":14,"p":1e-6},{"c":14,"r":14,"p":1e-6},{"c":15,"r":14,"p":1e-6},{"c":16,"r":14,"p":2e-7},{"c":17,"r":14,"p":2e-7},{"c":18,"r":14,"p":3e-6},{"c":19,"r":14,"p":4e-3},{"c":7,"r":15,"p":0.03},{"c":9,"r":15,"p":0.03},{"c":10,"r":15,"p":8e-3},{"c":11,"r":15,"p":1e-3},{"c":13,"r":15,"p":1.3e-5},{"c":14,"r":15,"p":2e-7},{"c":15,"r":15,"p":1.3e-8},{"c":16,"r":15,"p":1.3e-8},{"c":17,"r":15,"p":1.3e-8},{"c":18,"r":15,"p":1e-6},{"c":19,"r":15,"p":4e-3},{"c":10,"r":16,"p":0.016},{"c":11,"r":16,"p":8e-3},{"c":13,"r":16,"p":1.3e-5},{"c":14,"r":16,"p":2e-7},{"c":15,"r":16,"p":1.3e-8},{"c":16,"r":16,"p":1.3e-8},{"c":17,"r":16,"p":5e-8},{"c":18,"r":16,"p":3e-6},{"c":19,"r":16,"p":8e-3},{"c":8,"r":17,"p":0.03},{"c":13,"r":17,"p":6e-5},{"c":14,"r":17,"p":1e-6},{"c":15,"r":17,"p":1.3e-8},{"c":16,"r":17,"p":1.3e-8},{"c":17,"r":17,"p":1.3e-8},{"c":18,"r":17,"p":2e-7},{"c":19,"r":17,"p":8e-3},{"c":13,"r":18,"p":1e-3},{"c":14,"r":18,"p":1.3e-5},{"c":15,"r":18,"p":2e-7},{"c":16,"r":18,"p":2e-7},{"c":17,"r":18,"p":1.3e-8},{"c":18,"r":18,"p":1.3e-5},{"c":14,"r":19,"p":8e-3},{"c":15,"r":19,"p":6e-5},{"c":16,"r":19,"p":3e-6},{"c":17,"r":19,"p":2.5e-4},{"c":18,"r":19,"p":0.03},{"c":14,"r":20,"p":8e-3},{"c":15,"r":20,"p":1e-3},{"c":16,"r":20,"p":2.5e-4},{"c":17,"r":20,"p":0.016},{"c":15,"r":21,"p":0.03},{"c":16,"r":21,"p":0.03},{"c":18,"r":29,"p":0.03},{"c":19,"r":29,"p":0.03},{"c":34,"r":11,"p":0.03},{"c":35,"r":11,"p":0.03},{"c":34,"r":12,"p":8e-3},{"c":35,"r":12,"p":0.03},{"c":34,"r":13,"p":1e-3},{"c":35,"r":13,"p":0.03},{"c":34,"r":14,"p":8e-3},{"c":35,"r":14,"p":0.03},{"c":34,"r":15,"p":0.03}]
},
"layer":[
{"encoding":{"x":{"field":"sx","type":"quantitative","axis":null,"scale":{"domain":[0,1323],"range":[0,1323],"nice":false,"zero":false}},"y":{"field":"sy","type":"quantitative","axis":null,"scale":{"domain":[0,886],"range":[0,886],"nice":false,"zero":false}}},
"layer":[
{"data":{"name":"grid"},"transform":[{"filter":"datum.k<=12"},{"calculate":"['A','B','C']","as":"pn"},{"flatten":["pn"]},{"calculate":"datum.pn=='B'?735:82","as":"X"},{"calculate":"datum.pn=='C'?796:310","as":"Y"},{"calculate":"1.04*datum.k/12","as":"U"},{"calculate":"-0.025+1.055*datum.k/12","as":"V"}],
"layer":[
{"transform":[{"calculate":"datum.X+263*datum.V","as":"sx"},{"calculate":"datum.Y-63*datum.V","as":"sy"},{"calculate":"datum.sy-194","as":"ey"}],"mark":{"type":"rule","stroke":"#dcdcdc","strokeWidth":1},"encoding":{"y2":{"field":"ey"}}},
{"transform":[{"calculate":"datum.X+271+211*datum.U","as":"sx"},{"calculate":"datum.Y-65+88*datum.U","as":"sy"},{"calculate":"datum.sy-194","as":"ey"}],"mark":{"type":"rule","stroke":"#dcdcdc","strokeWidth":1},"encoding":{"y2":{"field":"ey"}}},
{"transform":[{"calculate":"datum.X+263*datum.V","as":"sx"},{"calculate":"datum.Y-63*datum.V","as":"sy"},{"calculate":"datum.sx+219.4","as":"ex"},{"calculate":"datum.sy+91.5","as":"ey"}],"mark":{"type":"rule","stroke":"#dcdcdc","strokeWidth":1},"encoding":{"x2":{"field":"ex"},"y2":{"field":"ey"}}},
{"transform":[{"calculate":"datum.X-6.6+211*datum.U","as":"sx"},{"calculate":"datum.Y+1.6+88*datum.U","as":"sy"},{"calculate":"datum.sx+277.5","as":"ex"},{"calculate":"datum.sy-66.5","as":"ey"}],"mark":{"type":"rule","stroke":"#dcdcdc","strokeWidth":1},"encoding":{"x2":{"field":"ex"},"y2":{"field":"ey"}}},
{"transform":[{"filter":"datum.k==0"},{"calculate":"datum.X-6.6","as":"sx"},{"calculate":"datum.Y+1.6","as":"sy"},{"calculate":"datum.sy-194","as":"ey"}],"mark":{"type":"rule","stroke":"#555","strokeWidth":1.2},"encoding":{"y2":{"field":"ey"}}},
{"transform":[{"filter":"datum.k==0"},{"calculate":"datum.X-6.6","as":"sx"},{"calculate":"datum.Y+1.6","as":"sy"},{"calculate":"datum.sx+219.4","as":"ex"},{"calculate":"datum.sy+91.5","as":"ey"}],"mark":{"type":"rule","stroke":"#666","strokeWidth":1},"encoding":{"x2":{"field":"ex"},"y2":{"field":"ey"}}},
{"transform":[{"filter":"datum.k==0"},{"calculate":"datum.X+212.8","as":"sx"},{"calculate":"datum.Y+93.1","as":"sy"},{"calculate":"datum.sx+277.5","as":"ex"},{"calculate":"datum.sy-66.5","as":"ey"}],"mark":{"type":"rule","stroke":"#666","strokeWidth":1},"encoding":{"x2":{"field":"ex"},"y2":{"field":"ey"}}},
{"transform":[{"calculate":"datum.X-6.6+211*datum.U","as":"sx"},{"calculate":"datum.Y+1.6+88*datum.U","as":"sy"},{"calculate":"datum.sx-5","as":"ex"},{"calculate":"datum.sy+1.5","as":"ey"}],"mark":{"type":"rule","stroke":"#444","strokeWidth":1},"encoding":{"x2":{"field":"ex"},"y2":{"field":"ey"}}},
{"transform":[{"calculate":"datum.X+212.8+277.5*datum.k/12","as":"sx"},{"calculate":"datum.Y+93.1-66.5*datum.k/12","as":"sy"},{"calculate":"datum.sx+4","as":"ex"},{"calculate":"datum.sy+2","as":"ey"}],"mark":{"type":"rule","stroke":"#444","strokeWidth":1},"encoding":{"x2":{"field":"ex"},"y2":{"field":"ey"}}}
]},
{"data":{"name":"zt"},"transform":[{"calculate":"datum.p=='B'?735:82","as":"X"},{"calculate":"datum.p=='C'?796:310","as":"Y"},{"calculate":"datum.p=='C'?(datum.z+5)/17*194:(datum.z+0.1)/0.7*194","as":"h"}],
"layer":[
{"transform":[{"calculate":"datum.X-6.6","as":"sx"},{"calculate":"datum.Y+1.6-datum.h","as":"sy"},{"calculate":"datum.X+271","as":"ex"},{"calculate":"datum.Y-65-datum.h","as":"ey"}],"mark":{"type":"rule","stroke":"#dcdcdc","strokeWidth":1},"encoding":{"x2":{"field":"ex"},"y2":{"field":"ey"}}},
{"transform":[{"calculate":"datum.X+271","as":"sx"},{"calculate":"datum.Y-65-datum.h","as":"sy"},{"calculate":"datum.X+490","as":"ex"},{"calculate":"datum.Y+26.6-datum.h","as":"ey"}],"mark":{"type":"rule","stroke":"#dcdcdc","strokeWidth":1},"encoding":{"x2":{"field":"ex"},"y2":{"field":"ey"}}},
{"transform":[{"calculate":"datum.X-6.6","as":"sx"},{"calculate":"datum.Y+1.6-datum.h","as":"sy"},{"calculate":"datum.sx-6","as":"ex"},{"calculate":"datum.sy+1","as":"ey"}],"mark":{"type":"rule","stroke":"#444","strokeWidth":1},"encoding":{"x2":{"field":"ex"},"y2":{"field":"ey"}}},
{"transform":[{"calculate":"datum.X-18","as":"sx"},{"calculate":"datum.Y+1.6-datum.h","as":"sy"}],"mark":{"type":"text","align":"right","baseline":"middle","font":"Liberation Sans","fontSize":15,"fill":"#404040"},"encoding":{"text":{"field":"z","type":"quantitative"}}}
]},
{"data":{"values":[{"u":0,"v":0,"o":0},{"u":1,"v":0,"o":1},{"u":1,"v":1,"o":2},{"u":0,"v":1,"o":3}]},"transform":[{"calculate":"['A','B']","as":"pn"},{"flatten":["pn"]},{"calculate":"(datum.pn=='B'?735:82)+211*datum.u+263*datum.v","as":"sx"},{"calculate":"283+88*datum.u-63*datum.v","as":"sy"}],"mark":{"type":"line","interpolate":"linear-closed","stroke":"#111","strokeWidth":0.5},"encoding":{"detail":{"field":"pn","type":"nominal"},"order":{"field":"o","type":"quantitative"},"fill":{"value":"#14979c"}}},
{"data":{"name":"troughA"},"transform":[{"window":[{"op":"lead","field":"z","as":"zu"},{"op":"lead","field":"u","as":"u1"}],"groupby":["v"],"sort":[{"field":"u"}]},{"window":[{"op":"lead","field":"z","as":"zv"},{"op":"lead","field":"zu","as":"zuv"},{"op":"lead","field":"v","as":"v1"}],"groupby":["u"],"sort":[{"field":"v"}]},{"filter":"datum.u1!=null&&datum.v1!=null"},{"calculate":"((datum.z+datum.zu+datum.zv+datum.zuv)/4+0.09)/0.18","as":"t"},{"calculate":"datum.u*100+datum.v","as":"q"},{"fold":["z","zu","zuv","zv"],"as":["key","val"]},{"calculate":"indexof(datum.key,'u')>=0?datum.u1:datum.u","as":"cu"},{"calculate":"indexof(datum.key,'v')>=0?datum.v1:datum.v","as":"cv"},{"calculate":"82+211*datum.cu/40+263*datum.cv/40","as":"sx"},{"calculate":"283+88*datum.cu/40-63*datum.cv/40-277*datum.val","as":"sy"}],"mark":{"type":"line","interpolate":"linear-closed","strokeWidth":0},"encoding":{"detail":{"field":"q","type":"nominal"},"order":{"field":"key","type":"ordinal"},"fill":{"field":"t","type":"quantitative","legend":null,"scale":{"domain":[0,0.143,0.286,0.429,0.5,0.571,0.714,0.857,1],"range":["#3E26A8","#4852F4","#2E87F7","#1097c0","#14979c","#2fae88","#ABC739","#FEC338","#F9FB15"],"clamp":true}}}},
{"data":{"name":"grid"},"transform":[{"filter":"datum.k<=40"},{"calculate":"['A','B']","as":"pn"},{"flatten":["pn"]},{"calculate":"datum.pn=='B'?735:82","as":"X"}],
"layer":[
{"transform":[{"calculate":"datum.X+211*datum.k/40","as":"sx"},{"calculate":"283+88*datum.k/40","as":"sy"},{"calculate":"datum.sx+263","as":"ex"},{"calculate":"datum.sy-63","as":"ey"}],"mark":{"type":"rule","stroke":"#04282c","strokeWidth":0.8},"encoding":{"x2":{"field":"ex"},"y2":{"field":"ey"}}},
{"transform":[{"calculate":"datum.X+263*datum.k/40","as":"sx"},{"calculate":"283-63*datum.k/40","as":"sy"},{"calculate":"datum.sx+211","as":"ex"},{"calculate":"datum.sy+88","as":"ey"}],"mark":{"type":"rule","stroke":"#04282c","strokeWidth":0.8},"encoding":{"x2":{"field":"ex"},"y2":{"field":"ey"}}}
]},
{"data":{"name":"surfA"},"transform":[{"window":[{"op":"lead","field":"z","as":"zu"},{"op":"lead","field":"u","as":"u1"}],"groupby":["v"],"sort":[{"field":"u"}]},{"window":[{"op":"lead","field":"z","as":"zv"},{"op":"lead","field":"zu","as":"zuv"},{"op":"lead","field":"v","as":"v1"}],"groupby":["u"],"sort":[{"field":"v"}]},{"filter":"datum.u1!=null&&datum.v1!=null"},{"calculate":"((datum.z+datum.zu+datum.zv+datum.zuv)/4+0.09)/0.18","as":"t"},{"calculate":"datum.u*100+datum.v","as":"q"},{"fold":["z","zu","zuv","zv"],"as":["key","val"]},{"calculate":"indexof(datum.key,'u')>=0?datum.u1:datum.u","as":"cu"},{"calculate":"indexof(datum.key,'v')>=0?datum.v1:datum.v","as":"cv"},{"calculate":"82+211*datum.cu/40+263*datum.cv/40","as":"sx"},{"calculate":"283+88*datum.cu/40-63*datum.cv/40-277*datum.val","as":"sy"}],"mark":{"type":"line","interpolate":"linear-closed","stroke":"#111","strokeWidth":0.7},"encoding":{"detail":{"field":"q","type":"nominal"},"order":{"field":"key","type":"ordinal"},"fill":{"field":"t","type":"quantitative","legend":null}}},
{"data":{"name":"surfB"},"transform":[{"window":[{"op":"lead","field":"z","as":"zu"},{"op":"lead","field":"u","as":"u1"}],"groupby":["v"],"sort":[{"field":"u"}]},{"window":[{"op":"lead","field":"z","as":"zv"},{"op":"lead","field":"zu","as":"zuv"},{"op":"lead","field":"v","as":"v1"}],"groupby":["u"],"sort":[{"field":"v"}]},{"filter":"datum.u1!=null&&datum.v1!=null"},{"calculate":"((datum.z+datum.zu+datum.zv+datum.zuv)/4+0.16)/0.32","as":"t"},{"calculate":"datum.u*100+datum.v","as":"q"},{"fold":["z","zu","zuv","zv"],"as":["key","val"]},{"calculate":"indexof(datum.key,'u')>=0?datum.u1:datum.u","as":"cu"},{"calculate":"indexof(datum.key,'v')>=0?datum.v1:datum.v","as":"cv"},{"calculate":"735+211*datum.cu/40+263*datum.cv/40","as":"sx"},{"calculate":"283+88*datum.cu/40-63*datum.cv/40-277*datum.val","as":"sy"}],"mark":{"type":"line","interpolate":"linear-closed","stroke":"#000","strokeWidth":1},"encoding":{"detail":{"field":"q","type":"nominal"},"order":{"field":"key","type":"ordinal"},"fill":{"field":"t","type":"quantitative","legend":null}}},
{"data":{"name":"surfC"},"transform":[{"window":[{"op":"lead","field":"z","as":"zu"},{"op":"lead","field":"u","as":"u1"}],"groupby":["v"],"sort":[{"field":"u"}]},{"window":[{"op":"lead","field":"z","as":"zv"},{"op":"lead","field":"zu","as":"zuv"},{"op":"lead","field":"v","as":"v1"}],"groupby":["u"],"sort":[{"field":"v"}]},{"filter":"datum.u1!=null&&datum.v1!=null"},{"calculate":"((datum.z+datum.zu+datum.zv+datum.zuv)/4+4)/16","as":"t"},{"calculate":"datum.u*100+datum.v","as":"q"},{"fold":["z","zu","zuv","zv"],"as":["key","val"]},{"calculate":"indexof(datum.key,'u')>=0?datum.u1:datum.u","as":"cu"},{"calculate":"indexof(datum.key,'v')>=0?datum.v1:datum.v","as":"cv"},{"calculate":"82+211*datum.cu/40+263*datum.cv/40","as":"sx"},{"calculate":"740+88*datum.cu/40-63*datum.cv/40-11.4*datum.val","as":"sy"}],"mark":{"type":"line","interpolate":"linear-closed","stroke":"#000","strokeWidth":1},"encoding":{"detail":{"field":"q","type":"nominal"},"order":{"field":"key","type":"ordinal"},"fill":{"field":"t","type":"quantitative","legend":null}}},
{"data":{"name":"labels"},"transform":[{"calculate":"(datum.p=='B'?735:82)+211*datum.u+263*datum.v","as":"sx"},{"calculate":"(datum.p=='C'?796:310)+88*datum.u-63*datum.v-194*datum.h","as":"sy"}],
"layer":[
{"transform":[{"filter":"datum.kind=='title'"}],"mark":{"type":"text","font":"Lato","fontSize":30,"fill":"#1a1a1a","align":"center","baseline":"middle"},"encoding":{"text":{"field":"text","type":"nominal"}}},
{"transform":[{"filter":"datum.kind=='serif'"}],"mark":{"type":"text","font":"Liberation Serif","fontSize":28,"fill":"#111","align":"center","baseline":"middle"},"encoding":{"text":{"field":"text","type":"nominal"}}},
{"transform":[{"filter":"datum.kind=='axis'"}],"mark":{"type":"text","font":"Liberation Sans","fontSize":18,"fill":"#404040","align":"center","baseline":"middle","angle":270},"encoding":{"text":{"field":"text","type":"nominal"}}}
]},
{"data":{"name":"arrows"},"transform":[{"calculate":"82+211*datum.u0+263*datum.v0","as":"sx"},{"calculate":"310+88*datum.u0-63*datum.v0","as":"sy"},{"calculate":"82+211*datum.u1+263*datum.v1","as":"ex"},{"calculate":"310+88*datum.u1-63*datum.v1","as":"ey"},{"calculate":"atan2(datum.ey-datum.sy,datum.ex-datum.sx)*180/PI","as":"ang"}],
"layer":[
{"mark":{"type":"rule","stroke":"#000","strokeWidth":1.5},"encoding":{"x2":{"field":"ex"},"y2":{"field":"ey"}}},
{"transform":[{"calculate":"datum.ex","as":"sx"},{"calculate":"datum.ey","as":"sy"}],"mark":{"type":"point","shape":"triangle-right","filled":true,"fill":"#000","opacity":1,"size":220},"encoding":{"angle":{"field":"ang","type":"quantitative","scale":null}}}
]}
]},
{"encoding":{"x":{"field":"c","type":"quantitative","axis":null,"scale":{"domain":[0,48],"range":[729,1222],"nice":false,"zero":false}},"y":{"field":"r","type":"quantitative","axis":null,"scale":{"domain":[0,47],"range":[538,886],"nice":false,"zero":false}}},
"layer":[
{"data":{"values":[{"c":0,"c1":48,"r":0,"r1":47}]},"mark":{"type":"rect","fill":"#000"},"encoding":{"x2":{"field":"c1"},"y2":{"field":"r1"}}},
{"data":{"name":"cells"},"transform":[{"calculate":"datum.c+1","as":"c1"},{"calculate":"datum.r+1","as":"r1"}],"mark":{"type":"rect"},"encoding":{"x2":{"field":"c1"},"y2":{"field":"r1"},"fill":{"field":"p","type":"quantitative","scale":{"type":"log","domain":[1e-8,1],"range":["#e0e0e0","#000000"]},"legend":{"title":null,"orient":"none","legendX":1238,"legendY":538,"gradientLength":360,"gradientThickness":32,"values":[1,0.01,0.0001,0.000001],"labelExpr":"datum.value>0.5?'10⁰':datum.value>0.005?'10⁻²':datum.value>0.00005?'10⁻⁴':'10⁻⁶'","labelFontSize":19,"labelFont":"Liberation Sans","labelColor":"#404040","gradientStrokeColor":"#444","gradientStrokeWidth":1}}}},
{"data":{"name":"grid"},"transform":[{"calculate":"datum.k","as":"c"},{"calculate":"0","as":"r"},{"calculate":"47","as":"r1"}],"mark":{"type":"rule","stroke":"#2c2c2c","strokeWidth":1},"encoding":{"y2":{"field":"r1"}}},
{"data":{"name":"grid"},"transform":[{"filter":"datum.k<=47"},{"calculate":"datum.k","as":"r"},{"calculate":"0","as":"c"},{"calculate":"48","as":"c1"}],"mark":{"type":"rule","stroke":"#2c2c2c","strokeWidth":1},"encoding":{"x2":{"field":"c1"}}},
{"data":{"values":[{"c":14.6,"c1":17.25,"r":15.3,"r1":18}]},"mark":{"type":"rect","fillOpacity":0,"stroke":"#ee1c25","strokeWidth":3.5},"encoding":{"x2":{"field":"c1"},"y2":{"field":"r1"}}},
{"data":{"values":[{"text":"(D)","c":29.6,"r":-3.4}]},"mark":{"type":"text","font":"Lato","fontSize":30,"fill":"#1a1a1a","align":"center","baseline":"middle"},"encoding":{"text":{"field":"text","type":"nominal"}}},
{"data":{"values":[{"text":"Left","c":39.4,"r":-2.6},{"text":"Caudal","c":-5,"r":38.9}]},"mark":{"type":"text","font":"Liberation Serif","fontSize":28,"fill":"#111","align":"center","baseline":"middle"},"encoding":{"text":{"field":"text","type":"nominal"}}},
{"data":{"values":[{"text":"p-Values","c":-4.3,"r":23.5}]},"mark":{"type":"text","font":"Liberation Sans","fontSize":18,"fill":"#404040","align":"center","baseline":"middle","angle":270},"encoding":{"text":{"field":"text","type":"nominal"}}},
{"data":{"values":[{"c":43,"r":-2.4,"c1":46,"r1":-2.4},{"c":-1.95,"r":43,"c1":-1.95,"r1":45.5}]},"transform":[{"calculate":"atan2(datum.r1-datum.r,datum.c1-datum.c)*180/PI","as":"ang"}],
"layer":[
{"mark":{"type":"rule","stroke":"#000","strokeWidth":1.5},"encoding":{"x2":{"field":"c1"},"y2":{"field":"r1"}}},
{"transform":[{"calculate":"datum.c1","as":"c"},{"calculate":"datum.r1","as":"r"}],"mark":{"type":"point","shape":"triangle-right","filled":true,"fill":"#000","opacity":1,"size":130},"encoding":{"angle":{"field":"ang","type":"quantitative","scale":null}}}
]}
]}
],
"resolve":{"scale":{"x":"independent","y":"independent","fill":"independent"}}
}
